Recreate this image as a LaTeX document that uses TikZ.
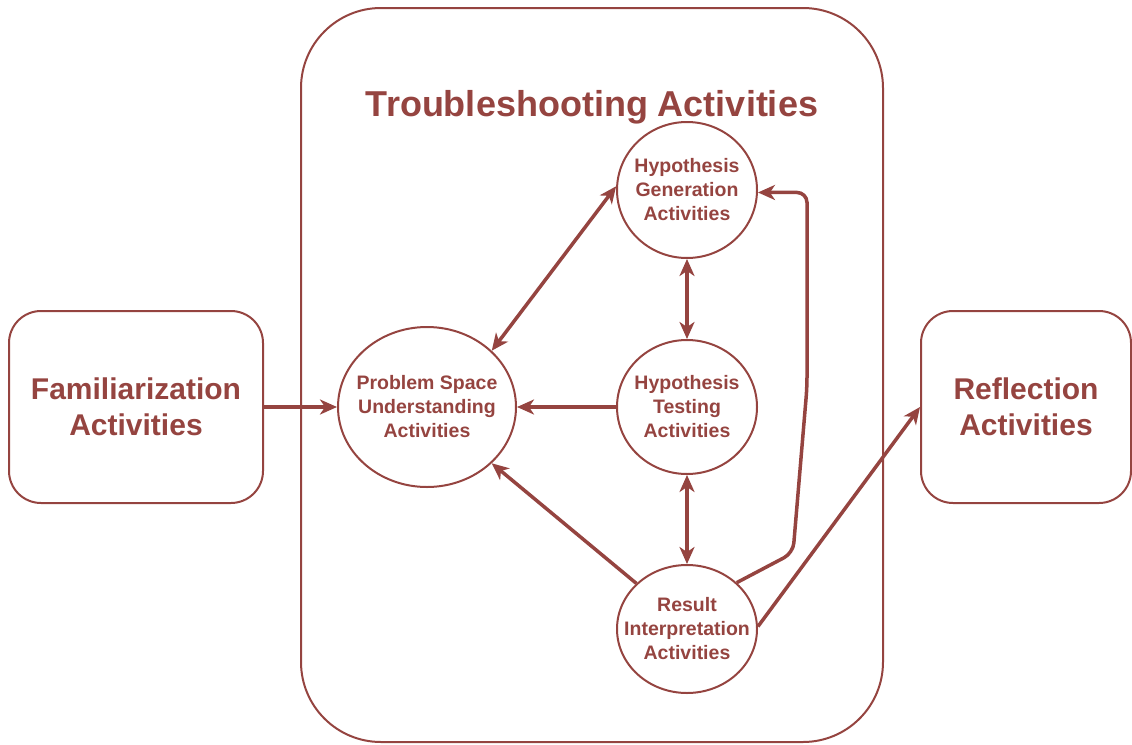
\documentclass[tikz,border=0pt]{standalone}
\usepackage{fontspec}
\setmainfont{Liberation Sans}
\usetikzlibrary{shapes.geometric,arrows.meta}
\definecolor{brn}{RGB}{149,68,64}
\begin{document}
\begin{tikzpicture}[x=1pt,y=-1pt,
  box/.style={draw=brn, line width=2pt, rounded corners=32pt, minimum height=192pt, align=center, text=brn, font=\fontsize{30}{36}\selectfont\bfseries, inner sep=0pt},
  act/.style={ellipse, draw=brn, line width=2pt, inner sep=0pt},
  acttext/.style={text=brn, align=center, font=\fontsize{19.5}{24}\selectfont\bfseries, inner sep=0pt},
  arr/.style={draw=brn, line width=3.5pt, -{Stealth[length=17pt,width=15pt,inset=5pt]}},
  darr/.style={draw=brn, line width=3.5pt, {Stealth[length=17pt,width=15pt,inset=5pt]}-{Stealth[length=17pt,width=15pt,inset=5pt]}}]
\useasboundingbox (0,0) rectangle (1132,744);
% big container
\node[draw=brn, line width=2pt, rounded corners=80pt, minimum width=582pt, minimum height=734pt, inner sep=0pt] (ts) at (592,375) {};
\node[text=brn, font=\fontsize{36}{40}\selectfont\bfseries, anchor=base, inner sep=0pt] (title) at (592,116) {Troubleshooting Activities};
% side boxes
\node[box, minimum width=254pt] (fam) at (136,407) {Familiarization\\Activities};
\node[box, minimum width=210pt] (refl) at (1026,407) {Reflection\\Activities};
% activity ellipses
\node[act, minimum width=140pt, minimum height=136pt, label={[acttext]center:Hypothesis\\Generation\\Activities}] (hg) at (687,190) {};
\node[act, minimum width=140pt, minimum height=134pt, label={[acttext]center:Hypothesis\\Testing\\Activities}] (ht) at (687,407) {};
\node[act, minimum width=178pt, minimum height=160pt, label={[acttext]center:Problem Space\\Understanding\\Activities}] (ps) at (427,407) {};
\node[act, minimum width=140pt, minimum height=128pt, label={[acttext]center:Result\\Interpretation\\Activities}] (ri) at (687,629) {};
% connectors
\draw[arr] (fam.east) -- (ps.west);
\draw[darr] (ps.41.7) -- (hg.177);
\draw[darr] (hg.south) -- (ht.north);
\draw[arr] (ht.west) -- (ps.east);
\draw[darr] (ht.south) -- (ri.north);
\draw[arr] (ri.138) -- (ps.-41);
\coordinate (k1) at (793,553);
\coordinate (k2) at (807,387);
\draw[arr, rounded corners=10pt] (ri.43) -- (k1) -- (k2) |- (hg.-2);
\draw[arr] (ri.2) -- (refl.west);
\end{tikzpicture}
\end{document}
